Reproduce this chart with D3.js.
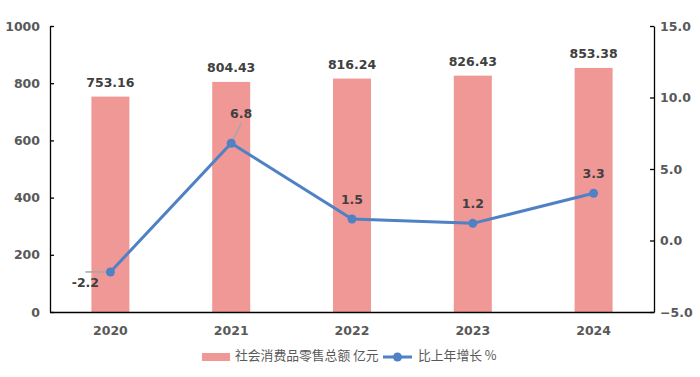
<!DOCTYPE html>
<html><head><meta charset="utf-8">
<script src="https://cdn.jsdelivr.net/npm/d3@7"></script>
<style>body{margin:0;background:#fff}svg{display:block}</style>
</head><body>
<svg id="c" width="700" height="377"></svg>
<script>
const years = ["2020","2021","2022","2023","2024"];
const sales = [753.16, 804.43, 816.24, 826.43, 853.38];
const growth = [-2.2, 6.8, 1.5, 1.2, 3.3];
const leftTicks = [0,200,400,600,800,1000];
const rightTicks = [-5,0,5,10,15];
const seriesNames = ["社会消费品零售总额 亿元","比上年增长 %"];

const svg = d3.select("#c");
const m = {l:50, r:654, t:26, b:312};
const x = d3.scaleBand().domain(years).range([m.l, m.r]);
const yL = d3.scaleLinear().domain([0,1000]).range([m.b, m.t]);
const yR = d3.scaleLinear().domain([-5,15]).range([m.b, m.t]);
const barColor = "#F09896", lineColor = "#4F81C4";
const numFont = "'DejaVu Sans', sans-serif";

// bars
const bw = 38;
svg.selectAll("rect.bar").data(years).join("rect")
  .attr("x", d => x(d) + x.bandwidth()/2 - bw/2)
  .attr("width", bw)
  .attr("y", (d,i) => yL(sales[i]))
  .attr("height", (d,i) => yL(0) - yL(sales[i]))
  .attr("fill", barColor);

// axes
const axL = svg.append("g").attr("transform", `translate(${m.l},0)`)
  .call(d3.axisLeft(yL).tickValues(leftTicks).tickSizeInner(-4).tickSizeOuter(0).tickPadding(10).tickFormat(d3.format("d")));
const axR = svg.append("g").attr("transform", `translate(${m.r},0)`)
  .call(d3.axisRight(yR).tickValues(rightTicks).tickSizeInner(-4).tickSizeOuter(0).tickPadding(10).tickFormat(d3.format(".1f")));
const axB = svg.append("g").attr("transform", `translate(0,${m.b})`)
  .call(d3.axisBottom(x).tickSize(0).tickPadding(14));
[axL, axR, axB].forEach(a => {
  a.select(".domain").attr("stroke", "#000").attr("stroke-width", 1.3);
  a.selectAll(".tick line").attr("stroke", "#000").attr("stroke-width", 1.3);
  a.selectAll("text").attr("fill", "#595959").attr("font-family", numFont)
    .attr("font-weight", "bold").attr("font-size", 12.5);
});
axR.selectAll("text").attr("dx", -4);

// bar labels
svg.selectAll("text.bl").data(years).join("text")
  .attr("x", d => x(d) + x.bandwidth()/2)
  .attr("y", (d,i) => yL(sales[i]) - 10)
  .attr("text-anchor", "middle")
  .attr("font-family", numFont).attr("font-weight", "bold").attr("font-size", 12.5)
  .attr("fill", "#404040")
  .text((d,i) => sales[i].toFixed(2));

// line
const cx = d => x(d) + x.bandwidth()/2;
const line = d3.line().x(d => cx(d)).y((d,i) => yR(growth[i]));
// leader lines
const p0 = [cx(years[0]), yR(growth[0])];
svg.append("line").attr("x1", p0[0]-25).attr("x2", p0[0]).attr("y1", p0[1]).attr("y2", p0[1])
  .attr("stroke", "#A6A6A6").attr("stroke-width", 1.5);
const p1 = [cx(years[1]), yR(growth[1])];
svg.append("line").attr("x1", p1[0]).attr("y1", p1[1]).attr("x2", p1[0]+10).attr("y2", p1[1]-20)
  .attr("stroke", "#A6A6A6").attr("stroke-width", 1.5);

svg.append("path").datum(years).attr("d", line)
  .attr("fill", "none").attr("stroke", lineColor).attr("stroke-width", 3);
svg.selectAll("circle.pt").data(years).join("circle")
  .attr("cx", d => cx(d)).attr("cy", (d,i) => yR(growth[i])).attr("r", 4.5)
  .attr("fill", lineColor);

// line labels
const offs = [[-25,12],[10,-29],[0,-19],[0,-19],[0,-19]];
svg.selectAll("text.ll").data(years).join("text")
  .attr("x", (d,i) => cx(d) + offs[i][0])
  .attr("y", (d,i) => yR(growth[i]) + offs[i][1])
  .attr("text-anchor", "middle").attr("dominant-baseline", "middle")
  .attr("font-family", numFont).attr("font-weight", "bold").attr("font-size", 12.5)
  .attr("fill", "#404040")
  .text((d,i) => growth[i].toFixed(1));

// legend
const lg = svg.append("g").attr("font-family", "'Noto Sans CJK SC', sans-serif").attr("font-size", 12.8).attr("fill", "#595959");
lg.append("rect").attr("x", 202).attr("y", 353).attr("width", 28).attr("height", 8).attr("fill", barColor);
lg.append("text").attr("x", 235).attr("y", 357).attr("dominant-baseline", "middle").text(seriesNames[0]);
lg.append("line").attr("x1", 383).attr("x2", 412).attr("y1", 357).attr("y2", 357).attr("stroke", lineColor).attr("stroke-width", 3);
lg.append("circle").attr("cx", 397.5).attr("cy", 357).attr("r", 4.5).attr("fill", lineColor);
lg.append("text").attr("x", 418).attr("y", 357).attr("dominant-baseline", "middle").text(seriesNames[1]);
</script>
</body></html>
